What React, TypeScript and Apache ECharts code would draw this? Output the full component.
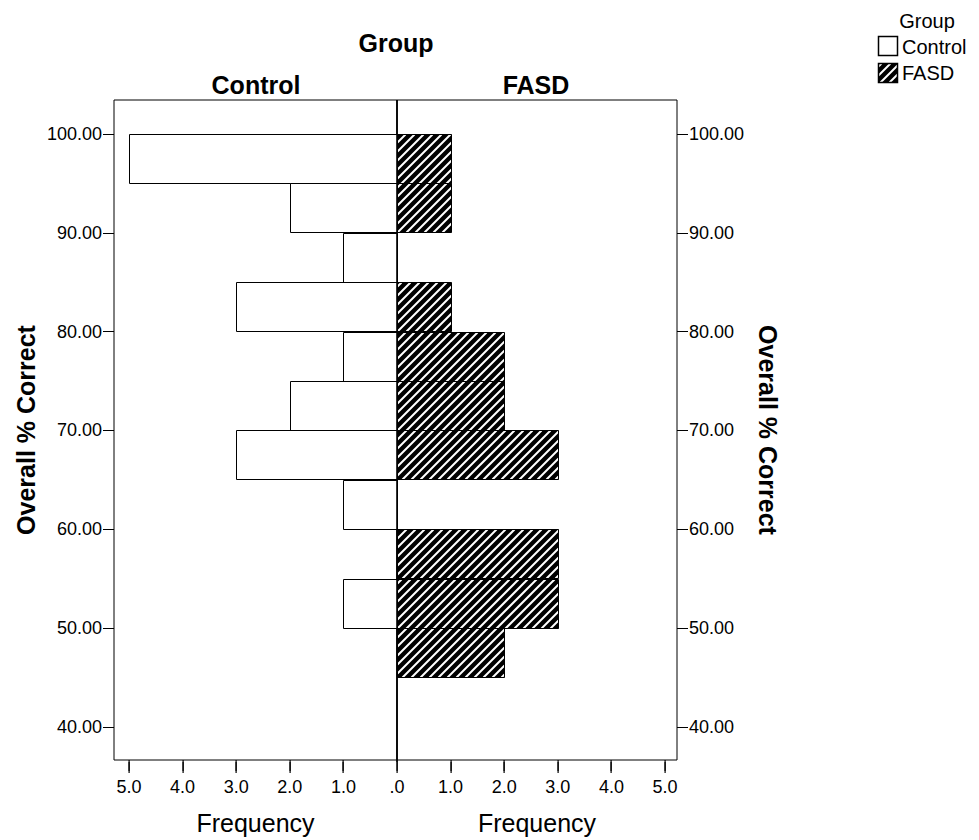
import React, { useEffect, useRef } from 'react';
import * as echarts from 'echarts';

// ---- data ----
const groups = ['Control', 'FASD'];
const binLower = [95, 90, 85, 80, 75, 70, 65, 60, 55, 50, 45];
const binWidth = 5;
const controlCounts = [5, 2, 1, 3, 1, 2, 3, 1, 0, 1, 0];
const fasdCounts = [1, 1, 0, 1, 2, 2, 3, 0, 3, 3, 2];
const yTicks = [40, 50, 60, 70, 80, 90, 100];
const leftXTicks = [0, 1, 2, 3, 4, 5];
const rightXTicks = [1, 2, 3, 4, 5];

const FONT = '"Liberation Sans", Arial, sans-serif';
const HATCH_STEP = 9;
const HATCH_LW = 2;
const Y_MIN = 36.67;
const Y_MAX = 103.43;
const TICK_LEN = 11;
const GRID_TOP = 100;
const GRID_H = 662;
const LEFT_X = 114;
const LEFT_W = 283;
const RIGHT_W = 280;
const LEFT_MAX = LEFT_W / 53.6;
const RIGHT_MAX = RIGHT_W / 53.6;

function hatchLines(x0: number, y0: number, w: number, h: number) {
  const out: any[] = [];
  const cStart = Math.ceil((x0 + y0) / HATCH_STEP) * HATCH_STEP;
  for (let c = cStart; c <= x0 + w + y0 + h; c += HATCH_STEP) {
    const xa = Math.max(x0, c - (y0 + h));
    const xb = Math.min(x0 + w, c - y0);
    if (xb - xa > 0.6) {
      out.push({
        type: 'line',
        shape: { x1: xa, y1: c - xa, x2: xb, y2: c - xb },
        style: { stroke: '#fff', lineWidth: HATCH_LW },
      });
    }
  }
  return out;
}

function barRect(api: any) {
  const lo = api.value(0);
  const hi = api.value(1);
  const cnt = api.value(2);
  if (!cnt) return null;
  const a = api.coord([0, hi]);
  const b = api.coord([cnt, lo]);
  return {
    x: Math.round(Math.min(a[0], b[0])) + 0.5,
    y: Math.round(Math.min(a[1], b[1])) + 0.5,
    width: Math.round(Math.abs(b[0] - a[0])),
    height: Math.round(Math.abs(b[1] - a[1])),
  };
}

// tick marks below the frame, positioned by the panel's own x scale
function tickEls(api: any, values: number[]) {
  return values.map((v) => {
    const p = api.coord([v, Y_MIN]);
    return {
      type: 'rect',
      shape: { x: Math.round(p[0]) - 0.5, y: Math.round(p[1]), width: 1.2, height: TICK_LEN },
      style: { fill: '#000' },
    };
  });
}

export default function App() {
  const ref = useRef<HTMLDivElement>(null);
  useEffect(() => {
    if (!ref.current) return;
    const chart = echarts.init(ref.current, null, { renderer: 'svg' });

    const controlData = binLower.map((lo, i) => [lo, lo + binWidth, controlCounts[i]]);
    const fasdData = binLower.map((lo, i) => [lo, lo + binWidth, fasdCounts[i]]);
    const bandTicks = [...leftXTicks.map((v) => [-v]), ...rightXTicks.map((v) => [v])];

    const tickLabelStyle = { fontSize: 18, color: '#000', fontFamily: FONT };
    const yAxisBase = {
      type: 'value',
      min: Y_MIN,
      max: Y_MAX,
      axisLine: { show: false, onZero: false },
      splitLine: { show: false },
      axisTick: { show: true, length: TICK_LEN, customValues: yTicks, lineStyle: { color: '#000', width: 1 } },
      axisLabel: {
        ...tickLabelStyle,
        margin: 12,
        customValues: yTicks,
        formatter: (v: number) => v.toFixed(2),
      },
      name: 'Overall % Correct',
      nameLocation: 'middle',
      nameTextStyle: { fontSize: 25, fontWeight: 'bold', color: '#000', fontFamily: FONT },
    };
    const xFmt = (v: number) => (v === 0 ? '.0' : v.toFixed(1));
    const xAxisBase = {
      type: 'value',
      min: 0,
      axisLine: { show: false, onZero: false },
      axisTick: { show: false },
      splitLine: { show: false },
      name: 'Frequency',
      nameLocation: 'middle',
      nameGap: 50,
      nameTextStyle: { fontSize: 25, color: '#000', fontFamily: FONT },
    };

    const legendX = 878;
    const legendBox = 19;

    chart.setOption({
      animation: false,
      backgroundColor: '#fff',
      grid: [
        { left: LEFT_X, top: GRID_TOP, width: LEFT_W, height: GRID_H, show: true, borderColor: '#000', borderWidth: 1 },
        { left: LEFT_X + LEFT_W, top: GRID_TOP, width: RIGHT_W, height: GRID_H, show: true, borderColor: '#000', borderWidth: 1 },
        // thin band just under the frame that carries the bottom tick marks
        { left: LEFT_X, top: GRID_TOP + GRID_H, width: LEFT_W + RIGHT_W, height: TICK_LEN, show: false },
      ],
      xAxis: [
        {
          ...xAxisBase,
          gridIndex: 0,
          position: 'bottom',
          inverse: true,
          max: LEFT_MAX,
          axisLabel: { ...tickLabelStyle, margin: 18, customValues: leftXTicks, formatter: xFmt },
        },
        {
          ...xAxisBase,
          gridIndex: 1,
          position: 'bottom',
          max: RIGHT_MAX,
          axisLabel: { ...tickLabelStyle, margin: 18, customValues: rightXTicks, formatter: xFmt },
        },
        { gridIndex: 2, type: 'value', min: -LEFT_MAX, max: RIGHT_MAX, show: false },
      ],
      yAxis: [
        { ...yAxisBase, gridIndex: 0, position: 'left', nameGap: 76 },
        { ...yAxisBase, gridIndex: 1, position: 'right', nameGap: 78, nameRotate: -90 },
        { gridIndex: 2, type: 'value', min: 0, max: 1, show: false },
      ],
      series: [
        {
          type: 'custom',
          name: groups[0],
          xAxisIndex: 0,
          yAxisIndex: 0,
          clip: false,
          encode: { x: 2, y: [0, 1] },
          data: controlData,
          renderItem: (params: any, api: any) => {
            const r = barRect(api);
            const children: any[] = [];
            if (r) children.push({ type: 'rect', shape: r, style: { fill: '#fff', stroke: '#000', lineWidth: 1 } });
            if (params.dataIndex === 0) children.push(...tickEls(api, leftXTicks));
            return { type: 'group', children };
          },
        },
        {
          type: 'custom',
          name: groups[1],
          xAxisIndex: 1,
          yAxisIndex: 1,
          clip: false,
          encode: { x: 2, y: [0, 1] },
          data: fasdData,
          renderItem: (params: any, api: any) => {
            const r = barRect(api);
            const children: any[] = [];
            if (r) {
              children.push(
                { type: 'rect', shape: r, style: { fill: '#000' } },
                ...hatchLines(r.x, r.y, r.width, r.height),
                { type: 'rect', shape: r, style: { fill: 'none', stroke: '#000', lineWidth: 1 } }
              );
            }
            if (params.dataIndex === 0) children.push(...tickEls(api, rightXTicks));
            return { type: 'group', children };
          },
        },
        {
          type: 'custom',
          name: 'xTicks',
          xAxisIndex: 2,
          yAxisIndex: 2,
          silent: true,
          encode: { x: 0 },
          data: bandTicks,
          z: 20,
          renderItem: (params: any, api: any) => {
            const top = api.coord([api.value(0), 1]);
            const bottom = api.coord([api.value(0), 0]);
            return {
              type: 'rect',
              shape: { x: Math.round(top[0]) - 0.5, y: top[1], width: 1.2, height: bottom[1] - top[1] },
              style: { fill: '#000' },
            };
          },
        },
      ],
      graphic: [
        {
          type: 'line',
          shape: { x1: LEFT_X + LEFT_W, y1: GRID_TOP, x2: LEFT_X + LEFT_W, y2: GRID_TOP + GRID_H },
          style: { stroke: '#000', lineWidth: 1.6 },
          z: 100,
        },
        {
          type: 'text',
          style: { text: 'Group', x: 396, y: 43, textAlign: 'center', textVerticalAlign: 'middle', fontSize: 25, fontWeight: 'bold', fontFamily: FONT, fill: '#000' },
        },
        {
          type: 'text',
          style: { text: groups[0], x: 256, y: 85, textAlign: 'center', textVerticalAlign: 'middle', fontSize: 25, fontWeight: 'bold', fontFamily: FONT, fill: '#000' },
        },
        {
          type: 'text',
          style: { text: groups[1], x: 536, y: 85, textAlign: 'center', textVerticalAlign: 'middle', fontSize: 25, fontWeight: 'bold', fontFamily: FONT, fill: '#000' },
        },
        {
          type: 'text',
          style: { text: 'Group', x: 927, y: 21, textAlign: 'center', textVerticalAlign: 'middle', fontSize: 20, fontFamily: FONT, fill: '#000' },
        },
        {
          type: 'rect',
          shape: { x: legendX + 0.5, y: 36.5, width: legendBox, height: legendBox },
          style: { fill: '#fff', stroke: '#000', lineWidth: 1.5 },
        },
        {
          type: 'text',
          style: { text: groups[0], x: 902, y: 47, textAlign: 'left', textVerticalAlign: 'middle', fontSize: 20, fontFamily: FONT, fill: '#000' },
        },
        {
          type: 'group',
          children: [
            { type: 'rect', shape: { x: legendX + 0.5, y: 63.5, width: legendBox, height: legendBox }, style: { fill: '#000' } },
            ...hatchLines(legendX + 0.5, 63.5, legendBox, legendBox),
            { type: 'rect', shape: { x: legendX + 0.5, y: 63.5, width: legendBox, height: legendBox }, style: { fill: 'none', stroke: '#000', lineWidth: 1.5 } },
          ],
        },
        {
          type: 'text',
          style: { text: groups[1], x: 902, y: 73, textAlign: 'left', textVerticalAlign: 'middle', fontSize: 20, fontFamily: FONT, fill: '#000' },
        },
      ],
    });

    return () => chart.dispose();
  }, []);
  return <div ref={ref} style={{ position: 'fixed', left: 0, top: 0, width: 979, height: 840, background: '#fff' }} />;
}
